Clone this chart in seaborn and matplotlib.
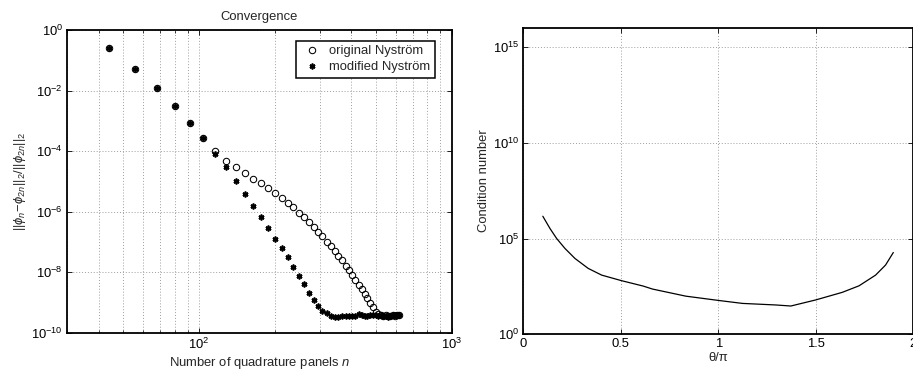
import matplotlib
matplotlib.use("Agg")
import matplotlib.pyplot as plt
import matplotlib.ticker as mticker
import seaborn as sns

# number of quadrature panels
n_panels = [44, 56, 68, 80, 92, 104, 116, 128, 140, 152, 164, 176, 188, 200,
            212, 224, 236, 248, 260, 272, 284, 296, 308, 320, 332, 344, 356,
            368, 380, 392, 404, 416, 428, 440, 452, 464, 476, 488, 500, 512,
            524, 536, 548, 560, 572, 584, 596, 608, 620]

# relative error, original Nystrom
err_original = [2.5e-1, 5.1e-2, 1.17e-2, 3.1e-3, 8.5e-4, 2.7e-4, 1.0e-4,
                4.8e-5, 2.9e-5, 1.86e-5, 1.23e-5, 8.7e-6, 5.9e-6, 4.1e-6,
                2.9e-6, 2.0e-6, 1.38e-6, 9.3e-7, 6.6e-7, 4.6e-7, 3.2e-7,
                2.1e-7, 1.51e-7, 1.02e-7, 7.1e-8, 5.1e-8, 3.5e-8, 2.5e-8,
                1.66e-8, 1.17e-8, 8.1e-9, 5.6e-9, 3.9e-9, 2.75e-9, 1.95e-9,
                1.38e-9, 9.8e-10, 7.1e-10, 5.0e-10, 4.3e-10, 3.9e-10, 3.7e-10,
                3.8e-10, 3.55e-10, 3.7e-10, 3.8e-10, 3.7e-10, 3.8e-10, 3.9e-10]

# relative error, modified Nystrom
err_modified = [2.5e-1, 5.1e-2, 1.17e-2, 3.1e-3, 8.5e-4, 2.7e-4, 8.1e-5,
                2.9e-5, 1.02e-5, 3.9e-6, 1.51e-6, 6.6e-7, 2.8e-7, 1.29e-7,
                6.2e-8, 3.1e-8, 1.51e-8, 7.6e-9, 4.0e-9, 2.1e-9, 1.17e-9,
                7.4e-10, 5.2e-10, 4.4e-10, 3.7e-10, 3.2e-10, 3.4e-10, 3.55e-10,
                3.5e-10, 3.55e-10, 3.5e-10, 3.6e-10, 4.0e-10, 3.9e-10, 3.7e-10,
                3.7e-10, 3.8e-10, 3.8e-10, 3.9e-10, 3.7e-10, 3.8e-10, 3.6e-10,
                3.7e-10, 3.3e-10, 3.6e-10, 3.8e-10, 3.9e-10, 3.8e-10, 3.9e-10]

# condition number vs opening angle
theta_over_pi = [0.10, 0.137, 0.171, 0.214, 0.265, 0.333, 0.402, 0.504, 0.615,
                 0.663, 0.834, 1.005, 1.125, 1.296, 1.373, 1.50, 1.637, 1.723,
                 1.808, 1.859, 1.899]
cond_number = [1.45e6, 3.3e5, 1.0e5, 3.0e4, 9.1e3, 2.75e3, 1.23e3, 6.3e2, 3.3e2,
               2.3e2, 98, 58, 41, 34, 30, 62, 155, 340, 1.23e3, 4.1e3, 1.86e4]

sns.set_style("ticks")
plt.rcParams['font.family'] = ['Liberation Sans', 'DejaVu Sans']
plt.rcParams['mathtext.fontset'] = 'custom'
plt.rcParams['mathtext.rm'] = 'Liberation Sans'
plt.rcParams['mathtext.it'] = 'Liberation Sans:italic'
plt.rcParams['mathtext.sf'] = 'Liberation Sans'
plt.rcParams['font.size'] = 9.4
plt.rcParams['xtick.direction'] = 'in'
plt.rcParams['ytick.direction'] = 'in'
plt.rcParams['xtick.top'] = True
plt.rcParams['ytick.right'] = True
plt.rcParams['xtick.major.size'] = 3.5
plt.rcParams['ytick.major.size'] = 3.5
plt.rcParams['xtick.minor.size'] = 2
plt.rcParams['xtick.major.width'] = 0.6
plt.rcParams['ytick.major.width'] = 0.6
plt.rcParams['xtick.minor.width'] = 0.5
plt.rcParams['xtick.color'] = 'black'
plt.rcParams['ytick.color'] = 'black'

fig = plt.figure(figsize=(9.13, 3.74), dpi=100)
ax1 = fig.add_axes([0.0734, 0.1104, 0.4213, 0.8094])
ax2 = fig.add_axes([0.5732, 0.1061, 0.4268, 0.8198])

grid_kw = dict(color='0.62', linestyle=(0, (1, 2)), linewidth=0.7)

# --- convergence plot ---
sns.lineplot(x=n_panels, y=err_original, ax=ax1, linestyle='none', marker='o',
             markersize=4.6, markerfacecolor='none', markeredgecolor='black',
             markeredgewidth=0.75, color='black', label='original Nyström')
sns.lineplot(x=n_panels, y=err_modified, ax=ax1, linestyle='none',
             marker=(6, 2, 0), markersize=4.2, markeredgecolor='black',
             markeredgewidth=1.2, color='black', label='modified Nyström')
ax1.set_xscale('log')
ax1.set_yscale('log')
ax1.set_xlim(30, 1000)
ax1.set_ylim(1e-10, 1)
ax1.set_yticks([1e-10, 1e-8, 1e-6, 1e-4, 1e-2, 1])
ax1.yaxis.set_minor_locator(mticker.NullLocator())
ax1.xaxis.set_minor_locator(mticker.LogLocator(base=10, subs=range(2, 10)))
ax1.xaxis.set_minor_formatter(mticker.NullFormatter())
ax1.grid(True, which='major', axis='both', **grid_kw)
ax1.grid(True, which='minor', axis='x', **grid_kw)
ax1.set_title('Convergence', fontsize=9.4, pad=7)
ax1.set_xlabel('Number of quadrature panels $n$', labelpad=2)
ax1.set_ylabel(r'$||\phi_n\!-\!\phi_{2n}||_2/||\phi_{2n}||_2$', labelpad=2)
leg = ax1.legend(loc='upper right', bbox_to_anchor=(0.957, 0.965),
                 frameon=True, fancybox=False, edgecolor='black',
                 framealpha=1, borderaxespad=0, handletextpad=0.4,
                 handlelength=1.8, borderpad=0.35, labelspacing=0.3)
leg.get_frame().set_linewidth(1.1)

# --- condition number plot ---
sns.lineplot(x=theta_over_pi, y=cond_number, ax=ax2, color='black',
             linewidth=0.9)
ax2.set_yscale('log')
ax2.set_xlim(0, 2)
ax2.set_ylim(1, 1e16)
ax2.set_xticks([0, 0.5, 1, 1.5, 2])
ax2.set_xticklabels(['0', '0.5', '1', '1.5', '2'])
ax2.set_yticks([1, 1e5, 1e10, 1e15])
ax2.yaxis.set_minor_locator(mticker.NullLocator())
ax2.grid(True, which='major', **grid_kw)
ax2.set_xlabel('θ/π', labelpad=1)
ax2.set_ylabel('Condition number', labelpad=2)

for ax in (ax1, ax2):
    for sp in ax.spines.values():
        sp.set_visible(True)
        sp.set_linewidth(1.3)
        sp.set_color('black')
    ax.tick_params(labelsize=9.4, pad=3)

fig.savefig('out.png', dpi=100)
